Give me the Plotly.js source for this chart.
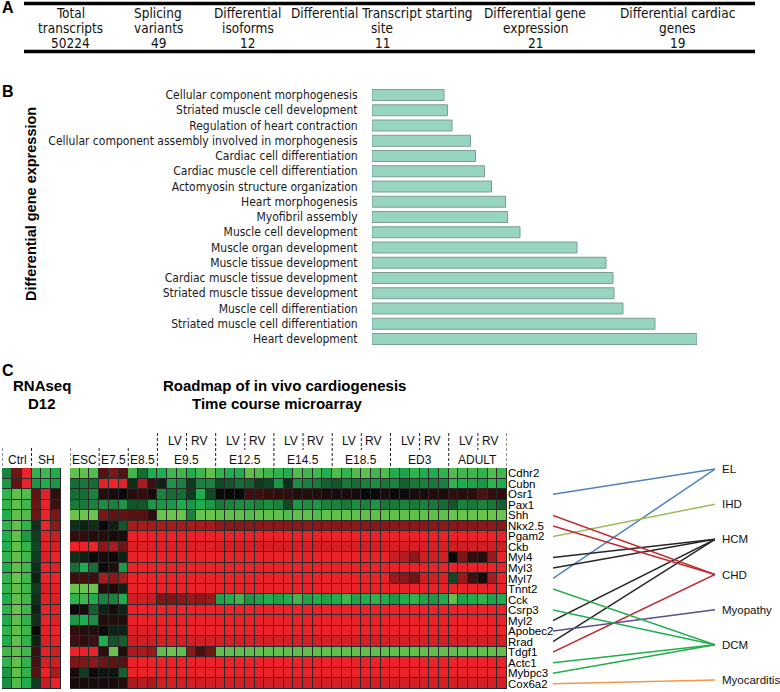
<!DOCTYPE html>
<html><head><meta charset="utf-8">
<script src="https://cdn.plot.ly/plotly-3.0.1.min.js"></script>
<style>html,body{margin:0;padding:0;background:#fff}#chart{width:780px;height:692px}</style>
</head><body><div id="chart"></div>
<script>
// ---------- Panel A: summary table ----------
const tableHead1 = ["Total","Splicing","Differential","Differential Transcript starting","Differential gene","Differential cardiac"];
const tableHead2 = ["transcripts","variants","isoforms","site","expression","genes"];
const tableValues = ["50224","49","12","11","21","19"];

// ---------- Panel B: GO terms ----------
const goTerms = ["Cellular component morphogenesis","Striated muscle cell development","Regulation of heart contraction",
 "Cellular component assembly involved in morphogenesis","Cardiac cell differentiation","Cardiac muscle cell differentiation",
 "Actomyosin structure organization","Heart morphogenesis","Myofibril assembly","Muscle cell development",
 "Muscle organ development","Muscle tissue development","Cardiac muscle tissue development",
 "Striated muscle tissue development","Muscle cell differentiation","Striated muscle cell differentiation","Heart development"];
const goValues = [144,151,160,197,207,225,239,267,271,296,410,468,482,484,502,566,650];

// ---------- Panel C: heatmaps ----------
const genes = ["Cdhr2","Cubn","Osr1","Pax1","Shh","Nkx2.5","Pgam2","Ckb","Myl4","Myl3","Myl7","Tnnt2","Cck","Csrp3","Myl2","Apobec2","Rrad","Tdgf1","Actc1","Mybpc3","Cox6a2"];
const rnaseqGroups = ["Ctrl","SH"];
const stageGroups = ["ESC","E7.5","E8.5","E9.5","E12.5","E14.5","E18.5","ED3","ADULT"];
const stageCols = [3,3,3,6,6,6,6,6,6];
const diseases = ["EL","IHD","HCM","CHD","Myopathy","DCM","Myocarditis"];
const diseaseColors = ["#4f81bd","#9bbb59","#262626","#c0272d","#5f4b8b","#1fae4a","#f79646"];
// gene -> disease links
const links = [["Osr1","EL"],["Myl7","EL"],["Pgam2","IHD"],["Myl4","HCM"],["Myl3","HCM"],["Myl2","HCM"],["Rrad","HCM"],
 ["Shh","CHD"],["Nkx2.5","CHD"],["Tdgf1","CHD"],["Apobec2","Myopathy"],["Tnnt2","DCM"],["Csrp3","DCM"],["Actc1","DCM"],["Mybpc3","DCM"],["Cox6a2","Myocarditis"]];

// RNAseq D12: Ctrl x3, SH x3
const rnaseqZ = [
 [-0.5,0.4,0.95,-0.75,-0.8,-0.7],
 [-0.6,0.35,0.95,-0.6,-0.7,-0.6],
 [-0.75,-0.9,-0.85,0.35,0.9,0.15],
 [-0.75,-0.9,-0.8,0.4,0.95,0.2],
 [-0.7,-0.9,-0.85,0.4,0.95,0.45],
 [-0.75,-0.9,-0.75,-0.15,0.95,0.5],
 [-0.7,-0.9,-0.6,-0.2,0.9,0.7],
 [-0.7,-0.9,-0.75,-0.25,0.9,0.8],
 [-0.75,-0.9,-0.8,-0.2,0.85,0.95],
 [-0.7,-0.9,-0.8,-0.15,0.95,0.85],
 [-0.75,-0.95,-0.8,-0.1,0.95,0.95],
 [-0.75,-0.9,-0.8,-0.2,0.85,0.9],
 [-0.7,-0.9,-0.8,-0.15,0.9,0.85],
 [-0.75,-0.95,-0.8,-0.1,0.95,0.9],
 [-0.7,-0.9,-0.75,-0.15,0.95,0.85],
 [-0.75,-0.9,-0.8,0,0.9,0.95],
 [-0.7,-0.9,-0.75,-0.1,0.85,0.9],
 [-0.8,-0.9,-0.8,0.2,0.9,0.75],
 [-0.75,-0.9,-0.75,0.25,0.8,0.75],
 [-0.6,-0.9,-0.75,0.3,0.95,0.6],
 [-0.55,-0.85,-0.7,-0.2,0.7,0.95]
];

// Time course: ESC3 E7.5x3 E8.5x3 E9.5x6 E12.5x6 E14.5x6 E18.5x6 ED3x6 ADULTx6
const timecourseZ = [
 /*Cdhr2*/ [-0.9,-0.9,-0.85, 0.3,0.45,0.3, -0.8,-0.4,-0.7, -0.7,-0.8,-0.8,-0.7,-0.8,-0.9, -0.75,-0.7,-0.7,-0.9,-0.85,-0.8, -0.75,-0.7,-0.85,-0.8,-0.8,-0.7, -0.85,-0.75,-0.85,-0.9,-0.8,-0.85, -0.7,-0.65,-0.75,-0.7,-0.7,-0.75, -0.85,-0.8,-0.8,-0.75,-0.85,-0.8],
 /*Cubn*/ [-0.4,-0.45,-0.4, 0.9,1,0.9, -0.15,0.6,0.2, -0.1,-0.6,-0.5,-0.2,-0.5,-0.5, -0.25,-0.3,-0.4,-0.35,-0.2,-0.25, -0.6,-0.15,-0.55,-0.5,-0.45,-0.35, -0.3,-0.45,-0.4,-0.5,-0.55,-0.45, -0.5,-0.35,-0.45,-0.5,-0.45,-0.5, -0.75,-0.7,-0.65,-0.6,-0.75,-0.7],
 /*Osr1*/ [-0.4,-0.4,-0.5, 0.1,0.05,0, 0.1,0.15,0.05, -0.5,-0.4,-0.4,-0.2,-0.7,-0.25, 0,0,0,0.2,0.2,0.15, 0.15,0.15,0.1,0.1,0.1,0.05, 0.05,0.05,0.05,0,0,0.05, 0,0.02,0.05,0.05,0.1,0.08, 0.15,0.12,0.12,0.25,0.15,0.15],
 /*Pax1*/ [-0.45,-0.45,-0.5, -0.55,-0.5,-0.6, -0.3,-0.3,-0.6, -0.6,-0.6,-0.7,-0.6,-0.7,-0.6, -0.45,-0.5,-0.55,-0.55,-0.5,-0.55, -0.5,-0.25,-0.6,-0.55,-0.6,-0.5, -0.5,-0.45,-0.55,-0.5,-0.6,-0.45, -0.45,-0.5,-0.45,-0.5,-0.45,-0.4, -0.3,-0.5,-0.45,-0.5,-0.45,-0.35],
 /*Shh*/ [-0.95,-0.95,-0.95, 0.45,0.35,0.35, 0.3,0.3,0.15, -0.95,-0.95,-0.95,-0.5,-0.95,-0.95, -0.9,-0.9,-0.9,-0.85,-0.9,-0.9, -0.9,-0.85,-0.9,-0.9,-0.85,-0.9, -0.9,-0.9,-0.9,-0.9,-0.9,-0.9, -0.9,-0.9,-0.9,-0.9,-0.9,-0.9, -0.95,-0.95,-0.95,-0.95,-0.95,-0.95],
 /*Nkx2.5*/ [-0.15,-0.1,-0.15, 0,-0.1,-0.3, 0.6,0.6,0.6, 0.6,0.6,0.6,0.6,0.6,0.6, 0.5,0.5,0.5,0.5,0.5,0.5, 0.5,0.5,0.5,0.5,0.5,0.5, 0.5,0.5,0.5,0.5,0.5,0.5, 0.5,0.5,0.5,0.5,0.5,0.5, 0.5,0.5,0.5,0.5,0.5,0.5],
 /*Pgam2*/ [0.15,0.15,0.1, 0.1,0.05,0.05, 0.95,0.95,0.95, 0.95,0.95,0.95,0.95,0.95,0.95, 0.95,0.95,0.95,0.95,0.95,0.95, 0.95,0.95,0.95,0.95,0.95,0.95, 0.95,0.95,0.95,0.95,0.95,0.95, 0.95,0.95,0.95,0.95,0.95,0.95, 0.95,0.95,0.95,0.95,0.95,0.95],
 /*Ckb*/ [0.95,0.95,0.95, 0.5,0.6,0.4, 0.85,0.85,0.85, 0.85,0.85,0.85,0.85,0.85,0.85, 0.82,0.82,0.82,0.82,0.82,0.82, 0.82,0.82,0.82,0.82,0.82,0.82, 0.82,0.82,0.82,0.82,0.82,0.82, 0.82,0.82,0.82,0.82,0.82,0.82, 0.75,0.75,0.75,0.75,0.75,0.75],
 /*Myl4*/ [-0.15,-0.1,0, 0.05,0,-0.1, 0.95,0.95,0.95, 0.95,0.95,0.95,0.95,0.95,0.95, 0.95,0.95,0.95,0.95,0.95,0.95, 0.95,0.95,0.95,0.95,0.95,0.95, 0.95,0.95,0.95,0.95,0.95,0.95, 0.7,0.65,0.5,0.75,0.75,0.8, 0,0.45,0.15,0.1,0.55,0.95],
 /*Myl3*/ [-0.4,-0.7,-0.4, 0,0.1,-0.6, 0.95,0.95,0.95, 0.95,0.95,0.95,0.95,0.95,0.95, 0.95,0.95,0.95,0.95,0.95,0.95, 0.95,0.95,0.95,0.95,0.95,0.95, 0.95,0.95,0.95,0.95,0.95,0.95, 0.95,0.95,0.95,0.95,0.95,0.95, 0.95,0.95,0.95,0.95,0.95,0.95],
 /*Myl7*/ [0.2,0.2,0.2, 0.6,0.5,0.6, 0.95,0.95,0.95, 0.95,0.95,0.95,0.95,0.95,0.95, 0.95,0.95,0.95,0.95,0.95,0.95, 0.95,0.95,0.95,0.95,0.95,0.95, 0.95,0.95,0.95,0.95,0.95,0.95, 0.55,0.5,0.4,0.75,0.75,0.85, -0.25,0.55,0.2,0.05,0.6,0.95],
 /*Tnnt2*/ [-0.95,-0.95,-0.95, 0.1,0.05,-0.1, 0.95,0.95,0.95, 0.95,0.95,0.95,0.95,0.95,0.95, 0.95,0.95,0.95,0.95,0.95,0.95, 0.95,0.95,0.95,0.95,0.95,0.95, 0.95,0.95,0.95,0.95,0.95,0.95, 0.95,0.95,0.95,0.95,0.95,0.95, 0.95,0.95,0.95,0.95,0.95,0.95],
 /*Cck*/ [-0.75,-0.8,-0.7, -0.5,-0.5,-0.7, 0.75,0.75,0.7, 0.45,0.45,0.5,0.55,0.5,0.55, -0.65,-0.7,-0.8,-0.6,-0.65,-0.7, -0.65,-0.7,-0.8,-0.65,-0.7,-0.65, -0.7,-0.8,-0.65,-0.7,-0.75,-0.7, -0.6,-0.7,-0.75,-0.65,-0.6,-0.7, -0.9,-0.65,-0.7,-0.75,-0.65,-0.7],
 /*Csrp3*/ [0,0.05,-0.35, -0.1,0.05,-0.1, 0.95,0.95,0.95, 0.95,0.95,0.95,0.95,0.95,0.95, 0.95,0.95,0.95,0.95,0.95,0.95, 0.95,0.95,0.95,0.95,0.95,0.95, 0.95,0.95,0.95,0.95,0.95,0.95, 0.95,0.95,0.95,0.95,0.95,0.95, 0.95,0.95,0.95,0.95,0.95,0.95],
 /*Myl2*/ [-0.6,-0.7,-0.55, 0.1,0.1,0.1, 0.95,0.95,0.95, 0.95,0.95,0.95,0.95,0.95,0.95, 0.95,0.95,0.95,0.95,0.95,0.95, 0.95,0.95,0.95,0.95,0.95,0.95, 0.95,0.95,0.95,0.95,0.95,0.95, 0.95,0.95,0.95,0.95,0.95,0.95, 0.95,0.95,0.95,0.95,0.95,0.95],
 /*Apobec2*/ [0.15,0.1,0.1, 0,-0.1,-0.1, 0.85,0.85,0.85, 0.95,0.95,0.95,0.95,0.95,0.95, 0.95,0.95,0.95,0.95,0.95,0.95, 0.95,0.95,0.95,0.95,0.95,0.95, 0.95,0.95,0.95,0.95,0.95,0.95, 0.95,0.95,0.95,0.95,0.95,0.95, 0.95,0.95,0.95,0.95,0.95,0.95],
 /*Rrad*/ [0.2,0.15,0.2, -0.7,-0.3,-0.35, 0.75,0.75,0.75, 0.8,0.8,0.8,0.8,0.8,0.8, 0.8,0.8,0.8,0.8,0.8,0.8, 0.8,0.8,0.8,0.8,0.8,0.8, 0.8,0.8,0.8,0.8,0.8,0.8, 0.8,0.8,0.8,0.8,0.8,0.8, 0.8,0.8,0.8,0.8,0.8,0.8],
 /*Tdgf1*/ [0.95,0.95,0.95, 0.15,-0.95,0.1, 0.6,0.6,0.55, -0.9,-0.95,-0.9,0.5,0.25,0.4, -0.9,-0.9,-0.9,-0.9,-0.9,-0.9, -0.9,-0.9,-0.9,-0.9,-0.9,-0.9, -0.9,-0.9,-0.9,-0.9,-0.9,-0.9, -0.9,-0.9,-0.9,-0.9,-0.9,-0.9, -0.9,-0.9,-0.9,-0.9,-0.9,-0.9],
 /*Actc1*/ [0.45,0.45,0.5, 0.4,0.35,0.3, 0.95,0.95,0.95, 0.95,0.95,0.95,0.95,0.95,0.95, 0.95,0.95,0.95,0.95,0.95,0.95, 0.95,0.95,0.95,0.95,0.95,0.95, 0.95,0.95,0.95,0.95,0.95,0.95, 0.95,0.95,0.95,0.95,0.95,0.95, 0.95,0.95,0.95,0.95,0.95,0.95],
 /*Mybpc3*/ [0.05,-0.2,0, -0.05,-0.05,-0.35, 0.95,0.95,0.95, 0.95,0.95,0.95,0.95,0.95,0.95, 0.95,0.95,0.95,0.95,0.95,0.95, 0.95,0.95,0.95,0.95,0.95,0.95, 0.95,0.95,0.95,0.95,0.95,0.95, 0.95,0.95,0.95,0.95,0.95,0.95, 0.95,0.95,0.95,0.95,0.95,0.95],
 /*Cox6a2*/ [0.05,0.05,0.05, 0.05,0.05,0.1, 0.6,0.65,0.6, 0.75,0.8,0.75,0.8,0.75,0.8, 0.8,0.8,0.8,0.8,0.8,0.8, 0.8,0.8,0.8,0.8,0.8,0.8, 0.8,0.8,0.8,0.8,0.8,0.8, 0.8,0.8,0.8,0.8,0.8,0.8, 0.8,0.8,0.8,0.8,0.8,0.8]
];

// ---------- helpers / layout ----------
const W = 780, H = 692;
const px = x => x / W, py = y => 1 - y / H;
const NARROW = "Liberation Sans Narrow, Arial Narrow, DejaVu Sans Condensed, sans-serif";
const ARIAL = "Liberation Sans, Arial, sans-serif";
const heatScale = [[0,'#74c44e'],[0.05,'#62bf4c'],[0.15,'#20ad4f'],[0.3,'#176c36'],[0.5,'#0a0a0a'],[0.7,'#6e1515'],[0.85,'#c41f24'],[1,'#f2222a']];
const heatDomY = [py(689), py(468)];
const nCols = timecourseZ[0].length;
const colIdx = timecourseZ[0].map((_, i) => i);
const rowIdx = genes.map((_, i) => i);
const gridFill = z => z.map(r => r.map(() => 0));

const traces = [];
// Panel B bars
traces.push({type:'bar', orientation:'h', x: goValues, y: goTerms, xaxis:'x', yaxis:'y',
  marker:{color:'#98d5bf', line:{color:'#7c9d92', width:1}}, hoverinfo:'none', showlegend:false});

// heatmap grid underlays + heatmaps
traces.push({type:'heatmap', z: gridFill(timecourseZ), x: colIdx, y: rowIdx, xaxis:'x2', yaxis:'y2',
  colorscale:[[0,'#2a2a2a'],[1,'#2a2a2a']], showscale:false, hoverinfo:'none'});
traces.push({type:'heatmap', z: timecourseZ, x: colIdx, y: rowIdx, xaxis:'x2', yaxis:'y2',
  colorscale: heatScale, zmin:-1, zmax:1, showscale:false, xgap:1, ygap:1, hoverinfo:'none'});
traces.push({type:'heatmap', z: gridFill(rnaseqZ), x: [0,1,2,3,4,5], y: rowIdx, xaxis:'x3', yaxis:'y3',
  colorscale:[[0,'#2a2a2a'],[1,'#2a2a2a']], showscale:false, hoverinfo:'none'});
traces.push({type:'heatmap', z: rnaseqZ, x: [0,1,2,3,4,5], y: rowIdx, xaxis:'x3', yaxis:'y3',
  colorscale: heatScale, zmin:-1, zmax:1, showscale:false, xgap:1, ygap:1, hoverinfo:'none'});

// disease link lines (disease labels evenly spaced in row units)
const diseaseY = diseases.map((_, i) => -0.4 + i * 3.34);
diseases.forEach((d, di) => {
  const xs = [], ys = [];
  links.filter(l => l[1] === d).forEach(l => {
    xs.push(0, 1, null); ys.push(genes.indexOf(l[0]), diseaseY[di], null);
  });
  traces.push({type:'scatter', mode:'lines', x: xs, y: ys, xaxis:'x4', yaxis:'y2',
    line:{color: diseaseColors[di], width:1.5}, hoverinfo:'none', showlegend:false});
});

const ann = [];
const shapes = [];
// Panel A
const tableX = [70,158,248,382,535,677];
tableHead1.forEach((t, i) => {
  [[t,13],[tableHead2[i],28],[tableValues[i],43]].forEach(([txt,y]) => {
    ann.push({text: txt, x: px(tableX[i]), y: py(y), xref:'paper', yref:'paper', xanchor:'center', yanchor:'middle',
      showarrow:false, font:{family: NARROW, size:13.5, color:'#111'}});
  });
});
shapes.push({type:'line', xref:'paper', yref:'paper', x0:px(24), x1:px(755), y0:py(3.5), y1:py(3.5), line:{color:'#000', width:3.5}});
shapes.push({type:'line', xref:'paper', yref:'paper', x0:px(24), x1:px(755), y0:py(51.5), y1:py(51.5), line:{color:'#000', width:3.5}});

// panel letters
[["A",8],["B",92],["C",370]].forEach(([t,y]) => ann.push({text:'<b>'+t+'</b>', x:px(0), y:py(y), xref:'paper', yref:'paper',
  xanchor:'left', yanchor:'middle', showarrow:false, font:{family: ARIAL, size:16, color:'#000'}}));

// Panel B y title
ann.push({text:'<b>Differential gene expression</b>', x:px(31), y:py(204), xref:'paper', yref:'paper', textangle:-90,
  xanchor:'center', yanchor:'middle', showarrow:false, font:{family: ARIAL, size:14.5, color:'#000'}});

// Panel C titles
[["RNAseq",42,385],["D12",42,403],["Roadmap of in vivo cardiogenesis",284,385],["Time course microarray",277,403]].forEach(([t,x,y]) =>
  ann.push({text:'<b>'+t+'</b>', x:px(x), y:py(y), xref:'paper', yref:'paper', xanchor:'center', yanchor:'middle',
    showarrow:false, font:{family: ARIAL, size:15, color:'#000'}}));

const hdrFont = {family: ARIAL, size:12, color:'#111'};
// RNAseq group labels + dashed separators
rnaseqGroups.forEach((g, i) => ann.push({text:g, x: i*3 + 1.05, y: py(460), xref:'x3', yref:'paper', xanchor:'center', yanchor:'middle', showarrow:false, font: hdrFont}));
[-0.5, 2.5].forEach(x => shapes.push({type:'line', xref:'x3', yref:'paper', x0:x, x1:x, y0:py(448), y1:py(468), line:{color:'#222', width:1, dash:'3px,2px'}}));

// time-course group labels
let start = 0;
stageGroups.forEach((g, i) => {
  const n = stageCols[i];
  const c = start + (n - 1) / 2;
  ann.push({text:g, x:c, y:py(460), xref:'x2', yref:'paper', xanchor:'center', yanchor:'middle', showarrow:false, font: hdrFont});
  const tall = n === 6;
  shapes.push({type:'line', xref:'x2', yref:'paper', x0:start-0.5, x1:start-0.5, y0: py(i >= 3 ? 433 : 448), y1:py(468), line:{color:'#222', width:1, dash:'3px,2px'}});
  if (tall) {
    const sep = start + 2.5;
    ann.push({text:'LV', x:sep, xshift:-3, y:py(441), xref:'x2', yref:'paper', xanchor:'right', yanchor:'middle', showarrow:false, font: hdrFont});
    ann.push({text:'RV', x:sep, xshift:2, y:py(441), xref:'x2', yref:'paper', xanchor:'left', yanchor:'middle', showarrow:false, font: hdrFont});
    shapes.push({type:'line', xref:'x2', yref:'paper', x0:sep, x1:sep, y0:py(433), y1:py(450), line:{color:'#222', width:1, dash:'3px,2px'}});
  }
  start += n;
});
shapes.push({type:'line', xref:'x2', yref:'paper', x0:nCols-0.5, x1:nCols-0.5, y0:py(433), y1:py(468), line:{color:'#222', width:1, dash:'3px,2px'}});

// disease labels
diseases.forEach((d, i) => ann.push({text:d, x:1, xshift:5, y:diseaseY[i], xref:'x4', yref:'y2', xanchor:'left', yanchor:'middle',
  showarrow:false, font:{family: ARIAL, size:11.5, color:'#111'}}));

const layout = {
  width: W, height: H, margin:{l:0,r:0,t:0,b:0}, paper_bgcolor:'#fff', plot_bgcolor:'rgba(0,0,0,0)',
  showlegend:false, bargap:0.28,
  xaxis:{domain:[px(372), px(697)], range:[0,650], visible:false, fixedrange:true},
  yaxis:{domain:[py(346.6), py(87.4)], type:'category', autorange:'reversed', tickmode:'linear', dtick:1, showgrid:false, zeroline:false, showline:false,
    ticks:'outside', ticklen:11, tickcolor:'rgba(0,0,0,0)', tickfont:{family: NARROW, size:12, color:'#1a1a1a'}, automargin:false},
  xaxis2:{domain:[px(70), px(507)], range:[-0.5, nCols-0.5], visible:false, anchor:'y2'},
  yaxis2:{domain: heatDomY, range:[20.5,-0.5], anchor:'x2', side:'right', tickmode:'array', tickvals: rowIdx, ticktext: genes, ticks:'',
    showgrid:false, zeroline:false, showline:false, tickfont:{family: ARIAL, size:11.5, color:'#000'}, automargin:false},
  xaxis3:{domain:[px(2), px(61)], range:[-0.5,5.5], visible:false, anchor:'y3'},
  yaxis3:{domain: heatDomY, range:[20.5,-0.5], visible:false, anchor:'x3'},
  xaxis4:{domain:[px(553), px(715)], range:[0,1], visible:false, anchor:'y2'},
  annotations: ann, shapes: shapes
};
Plotly.newPlot('chart', traces, layout, {displayModeBar:false, staticPlot:true});
</script></body></html>
